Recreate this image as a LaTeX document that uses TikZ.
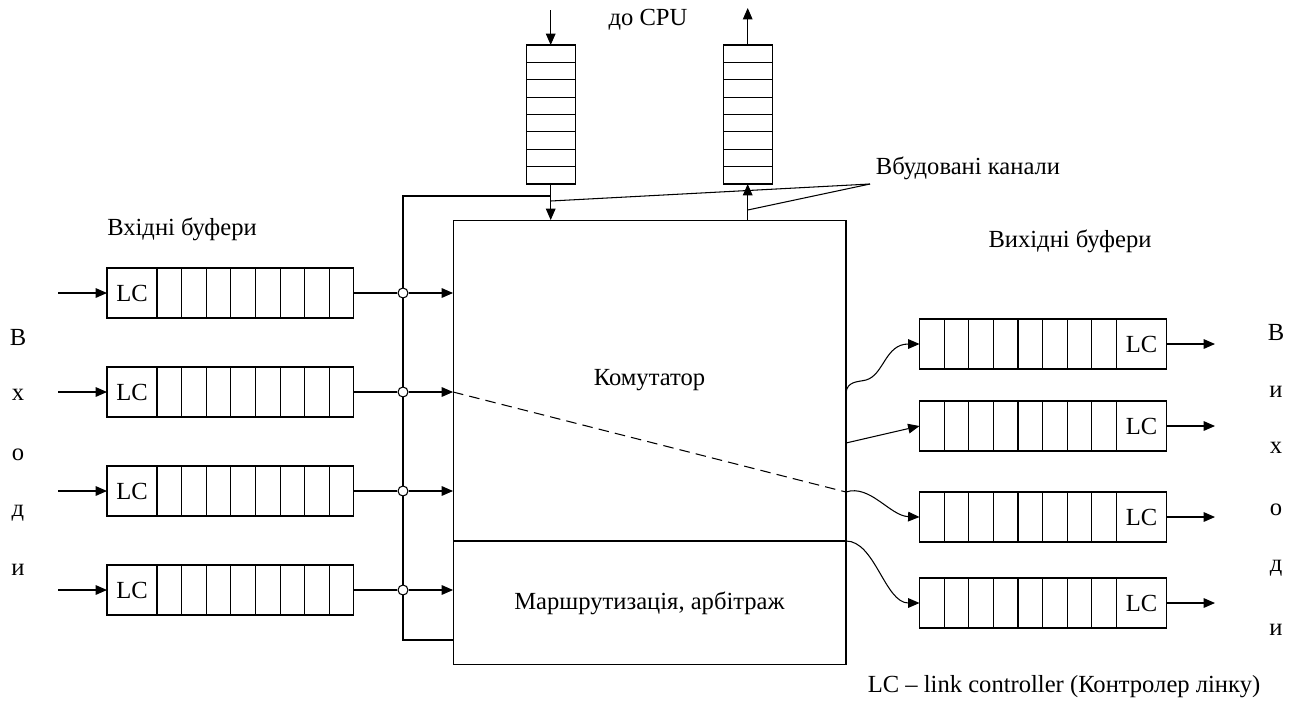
\documentclass[tikz,border=0pt]{standalone}
\usepackage{fontspec}
\setmainfont{Liberation Serif}
\usetikzlibrary{positioning, arrows.meta, calc}

\begin{document}
\begin{tikzpicture}[x=0.02cm, y=-0.02cm, line width=0.6pt,
    every node/.style={font=\fontsize{14}{16}\selectfont},
    box/.style={draw, rectangle, inner sep=0pt, outer sep=0pt},
    lcbox/.style={box, minimum width=1cm, minimum height=1cm},
    slotbox/.style={box, minimum width=3.94cm, minimum height=1cm},
    cpuq/.style={box, minimum width=0.98cm, minimum height=2.78cm},
    arr/.style={-{Triangle[length=6.5pt, width=5.5pt]}},
    joint/.style={draw, circle, fill=white, inner sep=0pt, minimum size=0.2cm}]
    \useasboundingbox (0,0) rectangle (1301,704);

    % switch and routing block
    \node[box, minimum width=7.86cm, minimum height=6.42cm] (switch) at (649.5,380.5) {Комутатор};
    \node[box, minimum width=7.86cm, minimum height=2.48cm, below=0pt of switch] (route) {Маршрутизація, арбітраж};

    % CPU queues
    \node[cpuq] (cpuin) at (550.7,114.5) {};
    \node[cpuq] (cpuout) at (747.7,114.5) {};
    \foreach \q in {cpuin, cpuout}
        \foreach \k in {1,...,7}
            \draw ([yshift=-\k*0.3475cm]\q.north west) -- ([yshift=-\k*0.3475cm]\q.north east);
    \coordinate (cpusrc) at (550.7,10);
    \coordinate (cpudst) at (747.7,8);
    \draw[arr] (cpusrc) -- (cpuin);
    \draw[arr] (cpuin) -- (switch.north -| cpuin);
    \draw[arr] (switch.north -| cpuout) -- (cpuout);
    \draw[arr] (cpuout) -- (cpudst);
    \node (cpulbl) at (648,20) {до CPU};

    % internal bus
    \coordinate (tap) at (550.7,196);
    \coordinate (busend) at (403,640);
    \draw (tap) -| (busend) -- (route.west |- busend);

    % embedded channels
    \node (emb) at (968,168) {Вбудовані канали};
    \coordinate (embtip) at (870,184);
    \draw (embtip) -- (tap |- 0,201);
    \draw (embtip) -- (cpuout |- 0,210);

    % input buffers
    \foreach \i/\y in {1/293, 2/392, 3/491, 4/590} {
        \node[lcbox] (lc\i) at (132,\y) {LC};
        \node[slotbox, right=0pt of lc\i] (iq\i) {};
        \foreach \k in {1,...,7}
            \draw ([xshift=\k*0.4925cm]iq\i.north west) -- ([xshift=\k*0.4925cm]iq\i.south west);
        \coordinate (src\i) at (58,\y);
        \node[joint] (j\i) at (403,\y) {};
        \draw[arr] (src\i) -- (lc\i);
        \draw (iq\i) -- (j\i);
        \draw[arr] (j\i) -- (switch.west |- j\i);
    }
    \node (inlbl) at (182,229) {Вхідні буфери};
    \foreach \c/\y in {В/337, х/395, о/455, д/513, и/570}
        \node at (18,\y) {\c};

    % output buffers
    \foreach \i/\y in {1/344, 2/426, 3/517, 4/603} {
        \node[slotbox] (oq\i) at (1018,\y) {};
        \node[lcbox, right=0pt of oq\i] (olc\i) {LC};
        \foreach \k in {1,...,7}
            \draw ([xshift=\k*0.4925cm]oq\i.north west) -- ([xshift=\k*0.4925cm]oq\i.south west);
        \coordinate (dst\i) at (1215,\y);
        \draw[arr] (olc\i) -- (dst\i);
    }
    \node (outlbl) at (1070,241) {Вихідні буфери};
    \foreach \c/\y in {В/332, и/392, х/448, о/510, д/568, и/630}
        \node at (1276,\y) {\c};

    % switch paths
    \draw[arr] (switch.east |- 0,393) .. controls (847,381) and (858,382) .. (866,380)
        .. controls (884,375) and (885,344) .. (oq1.west);
    \draw[arr] (switch.east |- 0,443) -- (oq2.west);
    \draw[dash pattern=on 6pt off 3.5pt] (switch.west |- j2) -- (switch.east |- 0,492);
    \draw[arr] (switch.east |- 0,492) .. controls (870,484) and (890,516) .. (oq3.west);
    \draw[arr] (route.north east) .. controls (875,541) and (885,603) .. (oq4.west);

    \node (note) at (1064,687) {LC -- link controller (Контролер лінку)};
\end{tikzpicture}
\end{document}
